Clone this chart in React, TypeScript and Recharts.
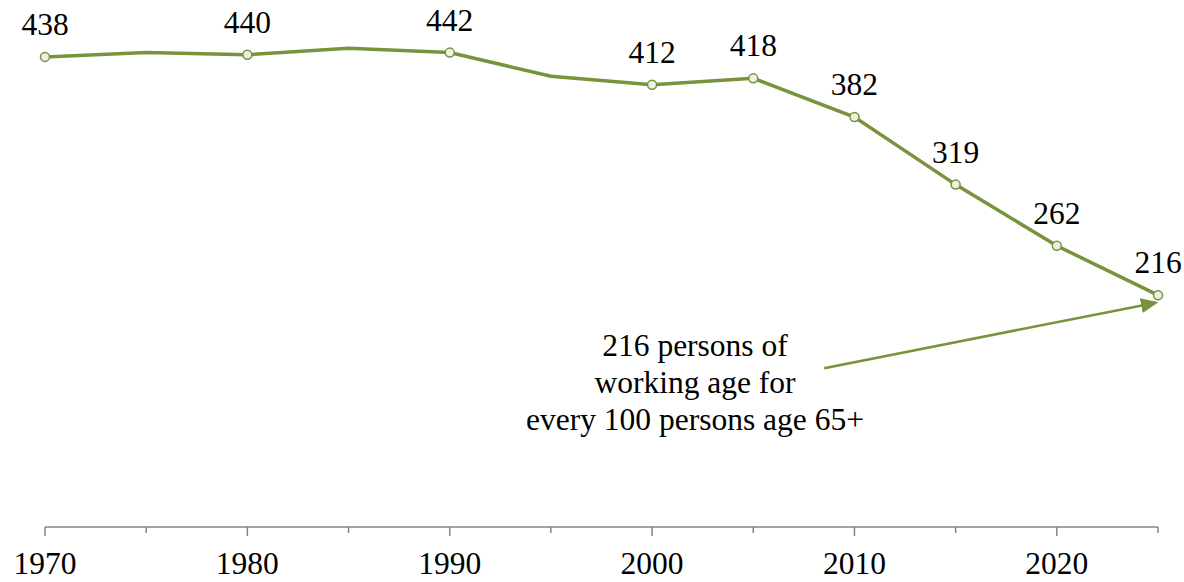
import { LineChart, Line, XAxis, YAxis, ReferenceLine } from "recharts";

const years = [1970, 1975, 1980, 1985, 1990, 1995, 2000, 2005, 2010, 2015, 2020, 2025];
const ratio = [438, 442, 440, 446, 442, 420, 412, 418, 382, 319, 262, 216];
const labeledYears = [1970, 1980, 1990, 2000, 2005, 2010, 2015, 2020, 2025];
const xTicks = [1970, 1975, 1980, 1985, 1990, 1995, 2000, 2005, 2010, 2015, 2020, 2025];
const noteLines = ["216 persons of", "working age for", "every 100 persons age 65+"];
// arrow from the note to the last point, in data units
const arrowFrom = { year: 2008.5, value: 148 };
const arrowTo = { year: 2024.9, value: 209 };

const GREEN = "#77933C";
const FONT = "Liberation Serif";
const FS = 31.5;

const data = years.map((y, i) => ({ year: y, ratio: ratio[i] }));

function Dot(props: any) {
  const { cx, cy, payload } = props;
  if (!labeledYears.includes(payload.year)) return <g key={payload.year} />;
  return (
    <circle
      key={payload.year}
      cx={cx}
      cy={cy}
      r={4.5}
      fill="#EBF1DE"
      stroke={GREEN}
      strokeWidth={1.5}
    />
  );
}

function PointLabel(props: any) {
  const { x, y, index } = props;
  if (!labeledYears.includes(years[index])) return null;
  return (
    <text x={x} y={y - 22} textAnchor="middle" fontFamily={FONT} fontSize={FS} fill="#000">
      {ratio[index]}
    </text>
  );
}

function YearTick(props: any) {
  const { x, y, payload } = props;
  const major = payload.value % 10 === 0 && payload.value !== 2025;
  return (
    <g>
      <line x1={x} y1={y} x2={x} y2={y + (major ? 9 : 6)} stroke="#868686" strokeWidth={1.5} />
      {major && (
        <text x={x} y={y + 47} textAnchor="middle" fontFamily={FONT} fontSize={FS} fill="#000">
          {payload.value}
        </text>
      )}
    </g>
  );
}

export default function App() {
  return (
    <div style={{ position: "absolute", left: 0, top: 0, width: 1184, height: 582, background: "#fff" }}>
      <LineChart
        width={1184}
        height={582}
        data={data}
        margin={{ top: 0, right: 26, left: 45, bottom: 0 }}
      >
        <defs>
          <marker id="arrowHead" markerWidth="7" markerHeight="6" refX="6" refY="3" orient="auto" markerUnits="strokeWidth">
            <path d="M0,0 L7,3 L0,6 Z" fill={GREEN} />
          </marker>
        </defs>
        <XAxis
          dataKey="year"
          type="number"
          domain={[1970, 2025]}
          ticks={xTicks}
          tick={<YearTick />}
          tickLine={false}
          tickSize={0}
          tickMargin={0}
          axisLine={{ stroke: "#868686", strokeWidth: 1.5 }}
          height={55}
          interval={0}
        />
        <YAxis hide domain={[0, 491]} />
        <ReferenceLine
          segment={[
            { x: arrowFrom.year, y: arrowFrom.value },
            { x: arrowTo.year, y: arrowTo.value },
          ]}
          stroke={GREEN}
          strokeWidth={2.5}
          markerEnd="url(#arrowHead)"
          ifOverflow="visible"
        />
        <Line
          type="linear"
          dataKey="ratio"
          stroke={GREEN}
          strokeWidth={3.5}
          dot={<Dot />}
          activeDot={false}
          label={<PointLabel />}
          isAnimationActive={false}
        />
      </LineChart>
      <div
        style={{
          position: "absolute",
          left: 495,
          top: 327,
          width: 400,
          textAlign: "center",
          fontFamily: FONT,
          fontSize: FS,
          lineHeight: "37px",
          color: "#000",
        }}
      >
        {noteLines.map((l) => (
          <div key={l}>{l}</div>
        ))}
      </div>
    </div>
  );
}
